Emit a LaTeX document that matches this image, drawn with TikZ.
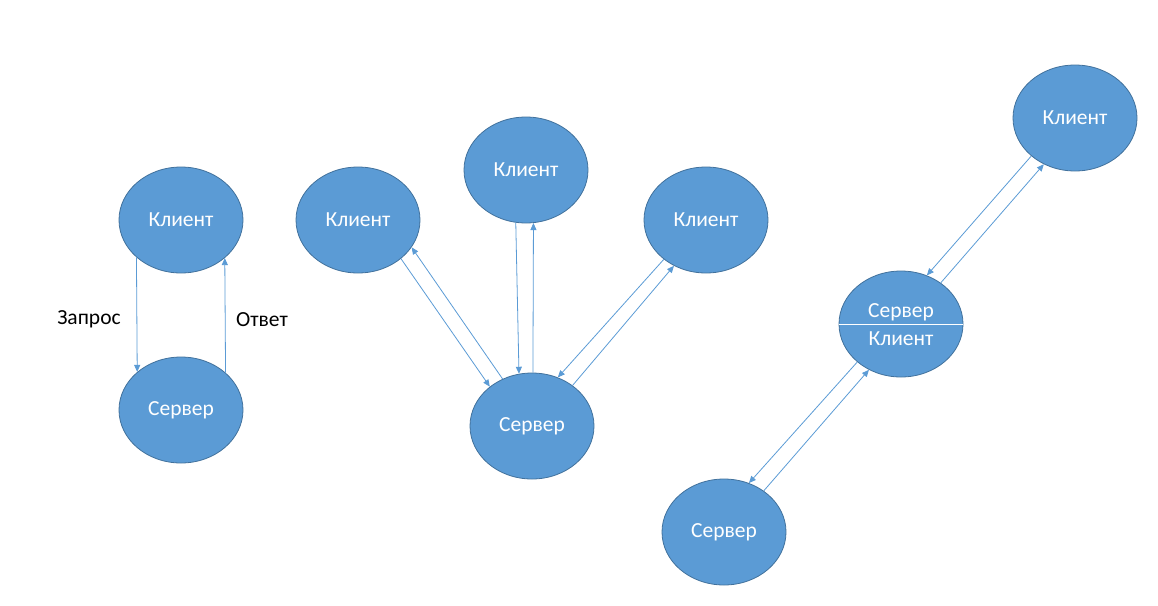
\documentclass[tikz,border=0pt]{standalone}
\usepackage{fontspec}
\setmainfont{Carlito}
\usetikzlibrary{arrows.meta,shapes.geometric}
\definecolor{fillb}{HTML}{5B9BD5}
\definecolor{edgeb}{HTML}{41719C}
\tikzset{
  bubble/.style={ellipse, draw=edgeb, fill=fillb, line width=0.8pt, minimum width=124pt, minimum height=106pt, inner sep=0pt, text=white, font=\fontsize{21.5}{24}\selectfont},
  intext/.style={text=white, inner sep=0pt, font=\fontsize{21.5}{24}\selectfont},
  lbl/.style={text=black, inner sep=0pt, font=\fontsize{21.5}{24}\selectfont},
  conn/.style={draw=fillb, line width=0.8pt, -{Triangle[length=7pt,width=6pt]}}
}
\newcommand{\lowtxt}[1]{\raisebox{-2pt}{#1}}
\begin{document}
\begin{tikzpicture}[x=1pt,y=-1pt]
\useasboundingbox (0,0) rectangle (1158,605);
% group A
\node[bubble] (ac) at (181,220) {\lowtxt{Клиент}};
\node[bubble] (as) at (181,410) {\lowtxt{Сервер}};
\draw[conn] (ac.220.8) -- (as.139.2);
\draw[conn] (as.40.8) -- (ac.319.2);
\node[lbl] (lq) at (89,319) {Запрос};
\node[lbl] (la) at (262,320) {Ответ};
% group B
\node[bubble] (bl) at (358,220) {\lowtxt{Клиент}};
\node[bubble] (bt) at (526,170) {\lowtxt{Клиент}};
\node[bubble] (br) at (706,220) {\lowtxt{Клиент}};
\node[bubble] (bs) at (532,426) {\lowtxt{Сервер}};
\draw[conn] (bl.-42.4) -- (bs.137.8);
\draw[conn] (bs.122.9) -- (bl.-27.8);
\draw[conn] (bt.259.2) -- (bs.104);
\draw[conn] (bs.89) -- (bt.278.7);
\draw[conn] (br.223.7) -- (bs.62.5);
\draw[conn] (bs.45.7) -- (br.235.2);
% group C
\node[bubble] (cc) at (1075,118) {\lowtxt{Клиент}};
\node[bubble] (cm) at (901,324) {};
\node[intext] (cmt) at (901,312.5) {Сервер};
\node[intext] (cmb) at (901,339) {Клиент};
\draw[white, line width=1pt] (cm.west) -- (cm.east);
\node[bubble] (cs) at (724,532) {\lowtxt{Сервер}};
\draw[conn] (cc.221.6) -- (cm.62);
\draw[conn] (cm.46.4) -- (cc.236.9);
\draw[conn] (cm.221.7) -- (cs.63.4);
\draw[conn] (cs.46.4) -- (cm.235.2);
\end{tikzpicture}
\end{document}
